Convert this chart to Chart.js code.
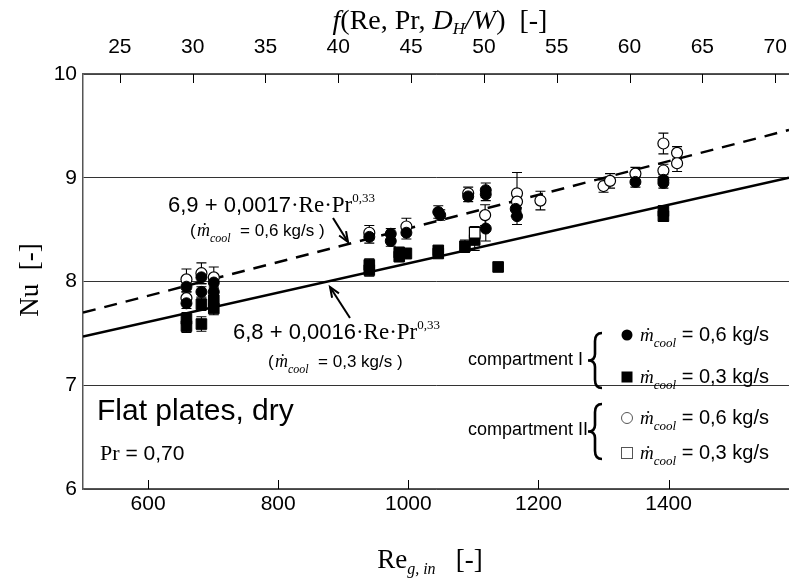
<!DOCTYPE html>
<html><head><meta charset="utf-8">
<script src="https://cdn.jsdelivr.net/npm/chart.js@4.4.1/dist/chart.umd.min.js"></script>
<style>html,body{margin:0;padding:0;background:#fff;overflow:hidden}#wrap{width:792px;height:581px;overflow:hidden}</style>
</head><body><div id="wrap"><canvas id="c" width="801" height="581"></canvas></div>
<script>
// ---- data ----
const reTicks = [600, 800, 1000, 1200, 1400];
const fTicks = [25, 30, 35, 40, 45, 50, 55, 60, 65, 70];
const nuTicks = [6, 7, 8, 9, 10];

// compartment I, m_cool = 0,6 kg/s (filled circles)
const fcRe  = [659, 659, 682, 682, 701, 701, 940, 973, 973, 997, 1046, 1049, 1092, 1119, 1119, 1119, 1165, 1167, 1349, 1392, 1392];
const fcNu  = [7.95, 7.79, 8.04, 7.90, 7.99, 7.90, 8.43, 8.46, 8.39, 8.47, 8.67, 8.64, 8.82, 8.88, 8.84, 8.51, 8.70, 8.63, 8.96, 8.98, 8.95];
const fcErr = [0.05, 0.05, 0.06, 0.05, 0.06, 0.05, 0.06, 0.05, 0.05, 0.06, 0.06, 0.05, 0.05, 0.07, 0.06, 0.12, 0.07, 0.08, 0.05, 0.05, 0.05];

// compartment II, m_cool = 0,6 kg/s (open circles)
const ocRe  = [659, 659, 682, 701, 940, 997, 1092, 1118, 1167, 1167, 1203, 1300, 1310, 1349, 1392, 1392, 1413, 1413];
const ocNu  = [8.02, 7.84, 8.08, 8.04, 8.47, 8.53, 8.85, 8.64, 8.85, 8.77, 8.78, 8.92, 8.97, 9.04, 9.33, 9.07, 9.24, 9.14];
const ocErr = [0.10, 0.06, 0.10, 0.10, 0.07, 0.08, 0.06, 0.10, 0.20, 0.10, 0.09, 0.06, 0.07, 0.06, 0.10, 0.06, 0.06, 0.08];

// compartment I, m_cool = 0,3 kg/s (filled squares)
const fsRe  = [659, 659, 682, 682, 701, 701, 940, 940, 986, 986, 997, 1046, 1046, 1087, 1102, 1138, 1392, 1392];
const fsNu  = [7.64, 7.57, 7.78, 7.59, 7.82, 7.74, 8.16, 8.11, 8.28, 8.24, 8.27, 8.30, 8.27, 8.34, 8.40, 8.14, 8.68, 8.63];
const fsErr = [0.06, 0.06, 0.06, 0.07, 0.08, 0.06, 0.06, 0.06, 0.05, 0.05, 0.05, 0.04, 0.04, 0.06, 0.10, 0.04, 0.05, 0.05];

// compartment II, m_cool = 0,3 kg/s (open squares)
const osRe  = [1102];
const osNu  = [8.47];
const osErr = [0.06];

// correlations
const corrRe = [500, 1585];
const corr06Nu = [7.70, 9.46];
const corr03Nu = [7.47, 9.00];

// ---- helpers ----
const SANS = "'Liberation Sans', Arial, sans-serif";
const SERIF = "'Liberation Serif', 'Times New Roman', serif";
const pts = (xs, ys) => xs.map((x, i) => ({x: x, y: ys[i]}));

function drawRich(ctx, x, y, parts, align) {
  let total = 0;
  parts.forEach(p => { ctx.font = p.f; p.w = ctx.measureText(p.t).width; total += p.w; });
  let cx = align === 'center' ? x - total / 2 : (align === 'right' ? x - total : x);
  ctx.textAlign = 'left';
  parts.forEach(p => { ctx.font = p.f; ctx.fillText(p.t, cx, y + (p.dy || 0)); cx += p.w; });
}
function brace(ctx, x, y0, y1, w) {
  const ym = (y0 + y1) / 2, xm = x + w / 2, h = y1 - y0;
  ctx.beginPath();
  ctx.moveTo(x + w, y0);
  ctx.quadraticCurveTo(xm, y0, xm, y0 + h * 0.15);
  ctx.lineTo(xm, ym - h * 0.12);
  ctx.quadraticCurveTo(xm, ym, x, ym);
  ctx.quadraticCurveTo(xm, ym, xm, ym + h * 0.12);
  ctx.lineTo(xm, y1 - h * 0.15);
  ctx.quadraticCurveTo(xm, y1, x + w, y1);
  ctx.stroke();
}
function arrow(ctx, x0, y0, x1, y1) {
  ctx.beginPath(); ctx.moveTo(x0, y0); ctx.lineTo(x1, y1); ctx.stroke();
  const a = Math.atan2(y1 - y0, x1 - x0), L = 11, s = 0.38;
  ctx.beginPath();
  ctx.moveTo(x1 - L * Math.cos(a - s), y1 - L * Math.sin(a - s));
  ctx.lineTo(x1, y1);
  ctx.lineTo(x1 - L * Math.cos(a + s), y1 - L * Math.sin(a + s));
  ctx.stroke();
}
function mcool(ctx, x, y, rest, size, restSize) {
  drawRich(ctx, x, y, [
    {t: 'ṁ', f: 'italic ' + size + 'px ' + SERIF},
    {t: 'cool', f: 'italic ' + Math.round(size * 0.68) + 'px ' + SERIF, dy: 6},
    {t: rest, f: (restSize || size - 1) + 'px ' + SANS}
  ], 'left');
}

const errorBars = {
  id: 'errorBars',
  beforeDatasetsDraw(chart) {
    const ctx = chart.ctx, xs = chart.scales.x, ys = chart.scales.y;
    ctx.save();
    ctx.strokeStyle = '#000'; ctx.lineWidth = 1.1;
    chart.data.datasets.forEach(ds => {
      if (!ds.err) return;
      ds.data.forEach((p, i) => {
        const px = xs.getPixelForValue(p.x);
        const yt = ys.getPixelForValue(p.y + ds.err[i]);
        const yb = ys.getPixelForValue(p.y - ds.err[i]);
        ctx.beginPath();
        ctx.moveTo(px, yt); ctx.lineTo(px, yb);
        ctx.moveTo(px - 5, yt); ctx.lineTo(px + 5, yt);
        ctx.moveTo(px - 5, yb); ctx.lineTo(px + 5, yb);
        ctx.stroke();
      });
    });
    ctx.restore();
  }
};

const decor = {
  id: 'decor',
  afterDraw(chart) {
    const ctx = chart.ctx, ca = chart.chartArea;
    const xs = chart.scales.x, x2 = chart.scales.x2;
    ctx.save();
    ctx.fillStyle = '#000'; ctx.strokeStyle = '#000';
    // inward tick marks
    ctx.lineWidth = 1;
    fTicks.forEach(v => { const px = Math.round(x2.getPixelForValue(v)) + 0.5; ctx.beginPath(); ctx.moveTo(px, ca.top); ctx.lineTo(px, ca.top + 9); ctx.stroke(); });
    reTicks.forEach(v => { const px = Math.round(xs.getPixelForValue(v)) + 0.5; ctx.beginPath(); ctx.moveTo(px, ca.bottom); ctx.lineTo(px, ca.bottom - 9); ctx.stroke(); });

    ctx.textBaseline = 'alphabetic';
    // axis titles
    drawRich(ctx, 440, 29, [
      {t: 'f', f: 'italic 28px ' + SERIF},
      {t: '(Re, Pr, ', f: '28px ' + SERIF},
      {t: 'D', f: 'italic 28px ' + SERIF},
      {t: 'H', f: 'italic 17px ' + SERIF, dy: 5},
      {t: '/W', f: 'italic 28px ' + SERIF},
      {t: ')  [-]', f: '28px ' + SERIF}
    ], 'center');
    drawRich(ctx, 430, 568, [
      {t: 'Re', f: '27px ' + SERIF},
      {t: 'g, in', f: 'italic 16px ' + SERIF, dy: 6},
      {t: '   [-]', f: '27px ' + SERIF}
    ], 'center');
    ctx.save();
    ctx.translate(38, 280); ctx.rotate(-Math.PI / 2);
    drawRich(ctx, 0, 0, [{t: 'Nu  [-]', f: '27px ' + SERIF}], 'center');
    ctx.restore();

    // correlation labels
    drawRich(ctx, 168, 212, [
      {t: '6,9 + 0,0017', f: '22px ' + SANS},
      {t: '·Re·Pr', f: '23px ' + SERIF},
      {t: '0,33', f: '13px ' + SERIF, dy: -10}
    ], 'left');
    drawRich(ctx, 190, 236, [{t: '(', f: '17px ' + SANS}], 'left');
    mcool(ctx, 197, 236, '  = 0,6 kg/s )', 18);
    drawRich(ctx, 233, 339, [
      {t: '6,8 + 0,0016', f: '22px ' + SANS},
      {t: '·Re·Pr', f: '23px ' + SERIF},
      {t: '0,33', f: '13px ' + SERIF, dy: -10}
    ], 'left');
    drawRich(ctx, 268, 367, [{t: '(', f: '17px ' + SANS}], 'left');
    mcool(ctx, 275, 367, '  = 0,3 kg/s )', 18);
    ctx.lineWidth = 2;
    arrow(ctx, 333, 218, 348, 242);
    arrow(ctx, 350, 318, 330, 287);

    // box label
    drawRich(ctx, 97, 420, [{t: 'Flat plates, dry', f: '30px ' + SANS}], 'left');
    drawRich(ctx, 100, 460, [{t: 'Pr', f: '22px ' + SERIF}, {t: ' = 0,70', f: '21px ' + SANS}], 'left');

    // legend
    ctx.textBaseline = 'middle';
    drawRich(ctx, 468, 360, [{t: 'compartment I', f: '18px ' + SANS}], 'left');
    drawRich(ctx, 468, 430, [{t: 'compartment II', f: '18px ' + SANS}], 'left');
    ctx.lineWidth = 2.6;
    brace(ctx, 588, 333, 388, 14);
    brace(ctx, 588, 404, 459, 14);
    ctx.beginPath(); ctx.arc(627, 335, 5.5, 0, Math.PI * 2); ctx.fill();
    ctx.fillRect(621.5, 371.5, 11, 11);
    ctx.lineWidth = 1; ctx.strokeStyle = '#555';
    ctx.beginPath(); ctx.arc(627, 418, 5.5, 0, Math.PI * 2); ctx.stroke();
    ctx.strokeRect(621.5, 447.5, 11, 11);
    ctx.textBaseline = 'alphabetic';
    mcool(ctx, 640, 341, ' = 0,6 kg/s', 19, 20);
    mcool(ctx, 640, 383, ' = 0,3 kg/s', 19, 20);
    mcool(ctx, 640, 424, ' = 0,6 kg/s', 19, 20);
    mcool(ctx, 640, 459, ' = 0,3 kg/s', 19, 20);
    ctx.restore();
  }
};

const tickFont = {family: SANS, size: 21};
const plain = v => String(v);

new Chart(document.getElementById('c'), {
  type: 'scatter',
  data: {
    datasets: [
      {label: 'I 0,6', data: pts(fcRe, fcNu), err: fcErr, pointStyle: 'circle', pointRadius: 5.5, backgroundColor: '#000', borderColor: '#000', borderWidth: 1, order: 1},
      {label: 'II 0,6', data: pts(ocRe, ocNu), err: ocErr, pointStyle: 'circle', pointRadius: 5.5, backgroundColor: '#fff', borderColor: '#000', borderWidth: 1.2, order: 2},
      {label: 'I 0,3', data: pts(fsRe, fsNu), err: fsErr, pointStyle: 'rect', pointRadius: 7.5, backgroundColor: '#000', borderColor: '#000', borderWidth: 1, order: 3},
      {label: 'II 0,3', data: pts(osRe, osNu), err: osErr, pointStyle: 'rect', pointRadius: 7.5, backgroundColor: '#fff', borderColor: '#000', borderWidth: 1.2, order: 0},
      {label: 'corr 0,6', data: pts(corrRe, corr06Nu), showLine: true, pointRadius: 0, borderColor: '#000', borderWidth: 2.5, borderDash: [13, 9], order: 10},
      {label: 'corr 0,3', data: pts(corrRe, corr03Nu), showLine: true, pointRadius: 0, borderColor: '#000', borderWidth: 2.5, order: 11}
    ]
  },
  options: {
    responsive: false, animation: false, devicePixelRatio: 1,
    layout: {padding: 0},
    plugins: {legend: {display: false}, tooltip: {enabled: false}},
    scales: {
      x: {
        type: 'linear', position: 'bottom', min: 500, max: 1585,
        afterBuildTicks: s => { s.ticks = reTicks.map(v => ({value: v})); },
        afterFit: s => { s.height = 92; },
        grid: {display: false, drawTicks: false},
        border: {display: true, color: '#555', width: 1.5},
        ticks: {font: tickFont, color: '#000', padding: 3, callback: plain}
      },
      x2: {
        type: 'linear', position: 'top', min: 22.47, max: 70.95,
        afterBuildTicks: s => { s.ticks = fTicks.map(v => ({value: v})); },
        afterFit: s => { s.height = 74; },
        grid: {display: false, drawTicks: false},
        border: {display: true, color: '#555', width: 1.5},
        ticks: {font: tickFont, color: '#000', padding: 14, callback: plain}
      },
      y: {
        type: 'linear', min: 6, max: 10,
        afterBuildTicks: s => { s.ticks = nuTicks.map(v => ({value: v})); },
        afterFit: s => { s.width = 83; },
        grid: {color: '#333', lineWidth: 1, drawTicks: false},
        border: {display: true, color: '#555', width: 1.5},
        ticks: {font: tickFont, color: '#000', padding: 6, callback: plain}
      }
    }
  },
  plugins: [errorBars, decor]
});
</script>
</body></html>
